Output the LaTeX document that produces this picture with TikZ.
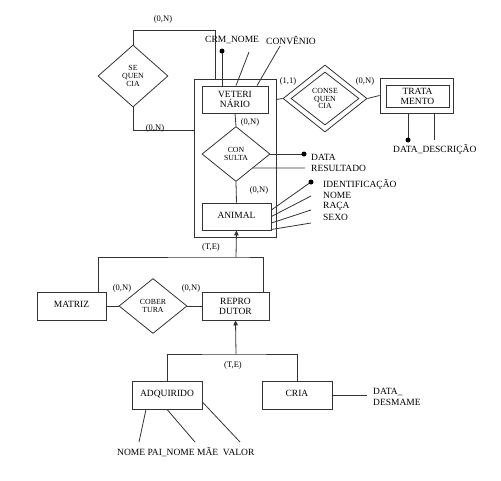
\documentclass[tikz,border=0pt]{standalone}
\usepackage{fontspec}
\setmainfont{Liberation Serif}
\usetikzlibrary{shapes.geometric,arrows.meta}
\begin{document}
\begin{tikzpicture}[x=1pt,y=-1pt,
  ln/.style={draw=black!80,line width=0.8pt},
  ent/.style={ln,rectangle,inner sep=0pt,align=center,font=\fontsize{9.5}{10}\selectfont},
  rel/.style={ln,diamond,inner sep=0pt,align=center,font=\fontsize{7.8}{7.6}\selectfont},
  card/.style={font=\fontsize{8.5}{9}\selectfont,inner sep=0pt},
  att/.style={font=\fontsize{9.5}{10}\selectfont,inner sep=0pt,anchor=west},
  dot/.style={circle,fill=black,inner sep=0pt,minimum size=5pt},
  arr/.style={ln,-{Triangle[length=5pt,width=4.5pt]}}]
\useasboundingbox (0,0) rectangle (501,480);
% aggregation
\node[ent,minimum width=82pt,minimum height=158pt] (agg) at (235,158) {};
\node[ent,minimum width=66pt,minimum height=27pt] (vet) at (235,99.5) {VETERI\\NÁRIO};
\node[rel,minimum width=68pt,minimum height=55pt] (cons) at (236,154) {CON\\SULTA};
\node[ent,minimum width=69pt,minimum height=27pt] (animal) at (236.5,216.5) {\raisebox{3pt}{ANIMAL}};
% sequencia
\node[rel,minimum width=70pt,minimum height=62pt] (seq) at (133,76) {SE\\QUEN\\CIA};
% consequencia
\node[rel,minimum width=84pt,minimum height=67pt] (conseq) at (325,98.5) {};
\node[rel,minimum width=68pt,minimum height=53pt] (conseqin) at (325,98.5) {CONSE\\QUEN\\CIA};
% tratamento
\node[ent,minimum width=73pt,minimum height=35pt] (trat) at (416.5,95.5) {};
\node[ent,minimum width=63pt,minimum height=22pt] (tratin) at (417.5,96) {TRATA\\MENTO};
% lower part
\node[ent,minimum width=69pt,minimum height=28pt] (matriz) at (71.5,306) {\raisebox{3pt}{MATRIZ}};
\node[rel,minimum width=68pt,minimum height=55pt] (cob) at (153,306) {COBER\\TURA};
\node[ent,minimum width=67pt,minimum height=28pt] (repro) at (235.5,306) {REPRO\\DUTOR};
\node[ent,minimum width=70pt,minimum height=28pt] (adq) at (167,395) {\raisebox{3pt}{ADQUIRIDO}};
\node[ent,minimum width=70pt,minimum height=28pt] (cria) at (297,395) {\raisebox{3pt}{CRIA}};
% coordinates
\coordinate (c1) at (215,30);
\coordinate (crm) at (222,51);
\coordinate (nomev) at (249,52);
\coordinate (conv) at (280,46);
\coordinate (dataC) at (304,154);
\coordinate (resC) at (305,168);
\coordinate (idA) at (311,182);
\coordinate (nomeA) at (311,196);
\coordinate (racaA) at (311,210);
\coordinate (sexoA) at (311,223);
\coordinate (dataT) at (408,140);
\coordinate (descT) at (434,140);
\coordinate (j1) at (236,257);
\coordinate (j2) at (236,354);
\coordinate (desm) at (367,395);
\coordinate (nomeP) at (139,442);
\coordinate (nomeM) at (195,442);
\coordinate (valor) at (240,442);
% connectors
\draw[ln] (seq.north) |- (c1) -- (c1 |- agg.north);
\draw[ln] (seq.south) |- ([yshift=28pt]agg.west);
\draw[ln] (crm |- vet.north) -- (crm);
\node[dot] at (crm) {};
\draw[ln] ([xshift=1pt]vet.north) -- (nomev);
\draw[ln] ([xshift=22pt]vet.north) -- (conv);
\draw[ln] (vet.south) -- (cons.north);
\draw[ln] (cons.south) -- (animal.north);
\draw[ln] (cons.east) -- (dataC);
\node[dot] at (dataC) {};
\draw[ln] (cons.south east) -- (resC);
\draw[ln] ([yshift=6.5pt]animal.east) -- (idA);
\node[dot] at (idA) {};
\draw[ln] ([yshift=0pt]animal.east) -- (nomeA);
\draw[ln] ([yshift=-6.5pt]animal.east) -- (racaA);
\draw[ln] ([yshift=-13pt]animal.east) -- (sexoA);
\draw[ln] (agg.east |- vet.east) -- (conseq.west);
\draw[ln] (conseq.east) -- (trat.west);
\draw[ln] (dataT |- trat.south) -- (dataT);
\node[dot] at (dataT) {};
\draw[ln] (descT |- trat.south) -- (descT);
\draw[arr] (j1) -- (animal.south);
\draw[ln] ([xshift=26.5pt]matriz.north) |- (j1) -| ([xshift=27.5pt]repro.north);
\draw[ln] (matriz.east) -- (cob.west);
\draw[ln] (cob.east) -- (repro.west);
\draw[arr] (j2) -- (repro.south);
\draw[ln] (adq.north) |- (j2) -| (cria.north);
\draw[ln] (cria.east) -- (desm);
\draw[ln] ([xshift=-21pt]adq.south) -- (nomeP);
\draw[ln] (adq.south) -- (nomeM);
\draw[ln] ([yshift=-7pt]adq.east) -- (valor);
% cardinalities
\node[card] (k1) at (163,19) {(0,N)};
\node[card] (k2) at (155,128) {(0,N)};
\node[card] (k3) at (250,122) {(0,N)};
\node[card] (k4) at (259,190) {(0,N)};
\node[card] (k5) at (288,81) {(1,1)};
\node[card] (k6) at (365,81) {(0,N)};
\node[card] (k7) at (211,247) {(T,E)};
\node[card] (k8) at (122,288) {(0,N)};
\node[card] (k9) at (191,288) {(0,N)};
\node[card] (k10) at (233,365) {(T,E)};
% attribute texts
\node[att] (tcrm) at (205,40) {CRM\_NOME};
\node[att] (tconv) at (266,40) {CONVÊNIO};
\node[att] (tdata) at (311,157) {DATA};
\node[att] (tres) at (311,168) {RESULTADO};
\node[att] (tid) at (323,184.5) {IDENTIFICAÇÃO};
\node[att] (tnome) at (323,195.5) {NOME};
\node[att] (traca) at (323,206.5) {RAÇA};
\node[att] (tsexo) at (323,217.5) {SEXO};
\node[att] (tdd) at (393,150) {DATA\_DESCRIÇÃO};
\node[att] (tdata2) at (373,391.5) {DATA\_};
\node[att] (tdesm) at (373,402.5) {DESMAME};
\node[att] (tbot) at (117,452) {NOME PAI\_NOME MÃE\ \ VALOR};
\end{tikzpicture}
\end{document}
